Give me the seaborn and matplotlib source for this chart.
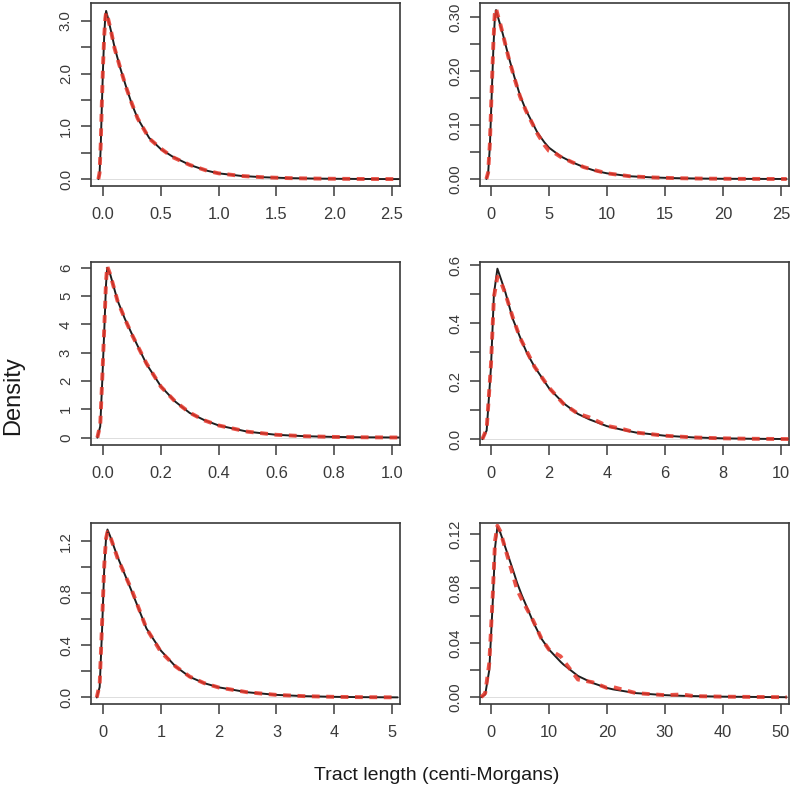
import numpy as np
import pandas as pd
import seaborn as sns
import matplotlib
matplotlib.use("Agg")
import matplotlib.pyplot as plt

# panel A (top left)
a_x = [-0.04, -0.03, -0.02, -0.01, 0.0, 0.01, 0.02, 0.027, 0.04, 0.07, 0.1, 0.15, 0.2, 0.25,
       0.3, 0.4, 0.5, 0.6, 0.75, 0.9, 1.0, 1.2, 1.4, 1.6, 1.8, 2.0, 2.2, 2.4, 2.6]
a_black = [0, 0.1, 0.6, 1.4, 2.1, 2.7, 3.1, 3.19, 3.08, 2.8, 2.5, 2.1, 1.75, 1.42,
           1.15, 0.78, 0.57, 0.43, 0.27, 0.16, 0.11, 0.06, 0.035, 0.02, 0.012, 0.007, 0.004, 0.002, 0.001]
a_red = [0, 0.12, 0.65, 1.45, 2.15, 2.7, 3.05, 3.16, 3.08, 2.8, 2.48, 2.1, 1.74, 1.43,
         1.15, 0.77, 0.58, 0.42, 0.27, 0.16, 0.11, 0.06, 0.034, 0.02, 0.012, 0.007, 0.004, 0.002, 0.001]

# panel B (top right)
b_x = [-0.4, -0.25, -0.1, 0.05, 0.2, 0.32, 0.43, 0.6, 0.8, 1.0, 1.5, 2.0, 2.5, 3.0, 4.0,
       4.6, 5.0, 5.5, 6.0, 7.0, 8.0, 9.0, 10, 12, 14, 16, 18, 20, 22, 25.5]
b_black = [0, 0.01, 0.06, 0.15, 0.24, 0.295, 0.313, 0.3, 0.285, 0.27, 0.228, 0.19, 0.155, 0.128, 0.086,
           0.068, 0.058, 0.05, 0.042, 0.031, 0.022, 0.015, 0.0105, 0.005, 0.0028, 0.0015, 0.0008, 0.0004, 0.0002, 0.0]
b_red = [0, 0.012, 0.065, 0.16, 0.25, 0.305, 0.316, 0.302, 0.287, 0.27, 0.226, 0.188, 0.153, 0.127, 0.084,
         0.063, 0.052, 0.048, 0.041, 0.031, 0.022, 0.016, 0.0105, 0.005, 0.0028, 0.0015, 0.0008, 0.0004, 0.0002, 0.0]

# panel C (middle left)
c_x = [-0.02, -0.01, -0.003, 0.004, 0.01, 0.014, 0.025, 0.05, 0.075, 0.1, 0.15, 0.2, 0.25,
       0.3, 0.35, 0.4, 0.5, 0.6, 0.7, 0.8, 0.9, 1.03]
c_black = [0, 0.4, 2.0, 3.8, 5.4, 6.0, 5.75, 4.84, 4.2, 3.65, 2.6, 1.81, 1.27,
           0.87, 0.62, 0.43, 0.21, 0.1, 0.05, 0.025, 0.012, 0.004]
c_red = [0, 0.45, 2.1, 3.9, 5.5, 6.05, 5.75, 4.82, 4.2, 3.63, 2.62, 1.8, 1.27,
         0.88, 0.61, 0.43, 0.21, 0.1, 0.05, 0.025, 0.012, 0.004]

# panel D (middle right)
d_x = [-0.3, -0.15, 0.0, 0.1, 0.22, 0.35, 0.5, 0.75, 1.0, 1.25, 1.5, 2.0, 2.5, 3.0, 3.4,
       4.0, 4.5, 5.0, 6.0, 7.0, 8.0, 9.0, 10.3]
d_black = [0, 0.03, 0.25, 0.5, 0.588, 0.55, 0.505, 0.415, 0.352, 0.295, 0.25, 0.176, 0.124, 0.087, 0.068,
           0.045, 0.033, 0.023, 0.012, 0.006, 0.003, 0.0015, 0.0005]
d_red = [0, 0.035, 0.26, 0.49, 0.56, 0.54, 0.5, 0.42, 0.35, 0.3, 0.25, 0.178, 0.122, 0.088, 0.075,
         0.046, 0.036, 0.023, 0.012, 0.006, 0.003, 0.0015, 0.0005]

# panel E (bottom left)
e_x = [-0.11, -0.06, -0.02, 0.02, 0.05, 0.075, 0.12, 0.25, 0.5, 0.75, 1.0, 1.25, 1.5, 1.75,
       2.0, 2.5, 3.0, 3.5, 4.0, 4.5, 5.1]
e_black = [0, 0.08, 0.5, 1.0, 1.22, 1.29, 1.24, 1.08, 0.81, 0.53, 0.36, 0.24, 0.158, 0.11,
           0.078, 0.04, 0.02, 0.01, 0.005, 0.0025, 0.001]
e_red = [0, 0.1, 0.55, 1.02, 1.22, 1.27, 1.24, 1.07, 0.82, 0.53, 0.35, 0.24, 0.16, 0.11,
         0.077, 0.04, 0.02, 0.01, 0.005, 0.0025, 0.001]

# panel F (bottom right)
f_x = [-1.7, -1.0, -0.3, 0.3, 0.7, 1.1, 1.6, 2.4, 3.9, 4.5, 5.3, 7.3, 8.7, 10, 12, 12.5, 15,
       17.5, 20, 21, 25, 30, 33, 35, 40, 45, 51]
f_black = [0, 0.002, 0.02, 0.07, 0.11, 0.125, 0.121, 0.111, 0.092, 0.084, 0.075, 0.055, 0.043, 0.035, 0.026, 0.024, 0.0156,
           0.0105, 0.0068, 0.0058, 0.003, 0.0015, 0.001, 0.0008, 0.0004, 0.0002, 0.0]
f_red = [0, 0.003, 0.025, 0.075, 0.115, 0.126, 0.122, 0.11, 0.088, 0.079, 0.072, 0.056, 0.043, 0.035, 0.03, 0.027, 0.013,
         0.011, 0.0068, 0.0075, 0.003, 0.0015, 0.002, 0.0008, 0.0004, 0.0002, 0.0]

panels = [
    dict(x=a_x, black=a_black, red=a_red, xlim=(-0.104, 2.57), ylim=(-0.13, 3.34),
         xticks=[0, 0.5, 1.0, 1.5, 2.0, 2.5], xlabels=["0.0", "0.5", "1.0", "1.5", "2.0", "2.5"],
         yticks=[0, 0.5, 1.0, 1.5, 2.0, 2.5, 3.0], ylabels=["0.0", "", "1.0", "", "2.0", "", "3.0"]),
    dict(x=b_x, black=b_black, red=b_red, xlim=(-0.95, 25.7), ylim=(-0.013, 0.326),
         xticks=[0, 5, 10, 15, 20, 25], xlabels=["0", "5", "10", "15", "20", "25"],
         yticks=[0, 0.05, 0.1, 0.15, 0.2, 0.25, 0.3], ylabels=["0.00", "", "0.10", "", "0.20", "", "0.30"]),
    dict(x=c_x, black=c_black, red=c_red, xlim=(-0.042, 1.028), ylim=(-0.26, 6.2),
         xticks=[0, 0.2, 0.4, 0.6, 0.8, 1.0], xlabels=["0.0", "0.2", "0.4", "0.6", "0.8", "1.0"],
         yticks=[0, 1, 2, 3, 4, 5, 6], ylabels=["0", "1", "2", "3", "4", "5", "6"]),
    dict(x=d_x, black=d_black, red=d_red, xlim=(-0.38, 10.28), ylim=(-0.02, 0.611),
         xticks=[0, 2, 4, 6, 8, 10], xlabels=["0", "2", "4", "6", "8", "10"],
         yticks=[0, 0.1, 0.2, 0.3, 0.4, 0.5, 0.6], ylabels=["0.0", "", "0.2", "", "0.4", "", "0.6"]),
    dict(x=e_x, black=e_black, red=e_red, xlim=(-0.21, 5.14), ylim=(-0.05, 1.34),
         xticks=[0, 1, 2, 3, 4, 5], xlabels=["0", "1", "2", "3", "4", "5"],
         yticks=[0, 0.2, 0.4, 0.6, 0.8, 1.0, 1.2], ylabels=["0.0", "", "0.4", "", "0.8", "", "1.2"]),
    dict(x=f_x, black=f_black, red=f_red, xlim=(-1.9, 51.4), ylim=(-0.005, 0.128),
         xticks=[0, 10, 20, 30, 40, 50], xlabels=["0", "10", "20", "30", "40", "50"],
         yticks=[0, 0.02, 0.04, 0.06, 0.08, 0.1, 0.12], ylabels=["0.00", "", "0.04", "", "0.08", "", "0.12"]),
]

sns.set_theme(style="ticks")
plt.rcParams["font.family"] = ["Liberation Sans", "DejaVu Sans"]

W, H = 797, 796
fig = plt.figure(figsize=(W / 100, H / 100), dpi=100)

cols = [(91, 400), (480, 789)]
rows = [(3, 186), (262, 445), (523, 704)]
edge = "#3a3a3a"

for i, p in enumerate(panels):
    l, r = cols[i % 2]
    t, b = rows[i // 2]
    ax = fig.add_axes([l / W, 1 - b / H, (r - l) / W, (b - t) / H])
    ax.axhline(0, color="#d8d8d8", lw=0.6, zorder=1)
    df = pd.DataFrame({"x": p["x"], "black": p["black"], "red": p["red"]})
    sns.lineplot(data=df, x="x", y="black", ax=ax, color="#1e1e1e", lw=1.4, zorder=2)
    sns.lineplot(data=df, x="x", y="red", ax=ax, color="#e8362a", lw=2.8, alpha=0.85,
                 linestyle=(0, (2.0, 1.7)), zorder=3)
    ax.set_xlim(*p["xlim"])
    ax.set_ylim(*p["ylim"])
    ax.set_xticks(p["xticks"])
    ax.set_xticklabels(p["xlabels"], fontsize=11.8)
    ax.set_yticks(p["yticks"])
    ax.set_yticklabels(p["ylabels"], rotation=90, va="center", fontsize=10.8)
    ax.set_xlabel("")
    ax.set_ylabel("")
    for s in ax.spines.values():
        s.set_visible(True)
        s.set_color(edge)
        s.set_linewidth(1.2)
    ax.tick_params(axis="both", direction="out", length=7, width=1.1, color=edge,
                   labelcolor="#3a3a3a")
    ax.tick_params(axis="x", pad=8)
    ax.tick_params(axis="y", pad=6)

fig.text(13 / W, 400 / H, "Density", rotation=90, ha="center", va="center",
         fontsize=17, color="#1a1a1a")
fig.text(437 / W, 1 - 776 / H, "Tract length (centi-Morgans)", ha="center", va="center",
         fontsize=14, color="#1a1a1a")

fig.savefig("out.png", dpi=100)
